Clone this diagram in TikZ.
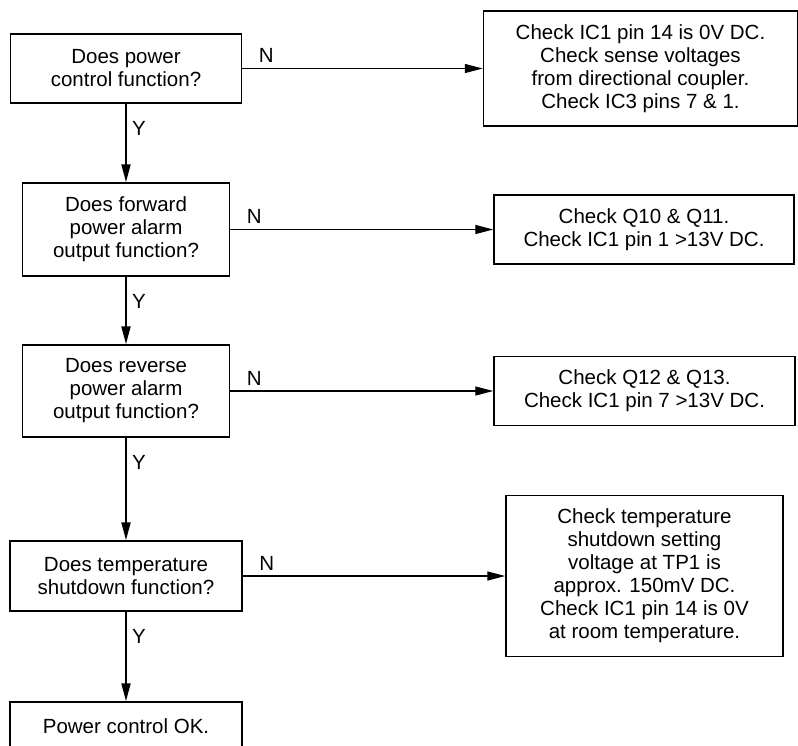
\documentclass[tikz,border=0pt]{standalone}
\usepackage{fontspec}
\setmainfont{Liberation Sans}
\usetikzlibrary{arrows.meta}

\begin{document}
\begin{tikzpicture}[x=1pt, y=-1pt,
    font=\fontsize{20.5}{23}\selectfont,
    qbox/.style={draw, line width=1.5pt, align=center, inner sep=0pt},
    fixbox/.style={draw, line width=1.5pt, align=center, inner sep=0pt},
    yline/.style={line width=2pt, -{Triangle[length=18pt,width=9pt]}},
    nline/.style={line width=1.3pt, -{Triangle[length=18pt,width=9pt]}},
    ylbl/.style={anchor=north west, inner sep=0pt, xshift=5pt, yshift=-17pt},
    nlbl/.style={anchor=south west, inner sep=0pt, xshift=16pt, yshift=5pt}]
\useasboundingbox (0,0) rectangle (798,745);

% Question boxes
\node[qbox, minimum width=231pt, minimum height=69pt] (q1) at (126,68.5) {Does power\\control function?};
\node[qbox, minimum width=207pt, minimum height=93pt] (q2) at (126,229.5) {Does forward\\power alarm\\output function?};
\node[qbox, minimum width=207pt, minimum height=92pt] (q3) at (126,391) {Does reverse\\power alarm\\output function?};
\node[qbox, minimum width=232pt, minimum height=70pt] (q4) at (126,576) {Does temperature\\shutdown function?};
\node[qbox, minimum width=232pt, minimum height=48pt] (ok) at (126,726) {Power control OK.};

% Fault boxes
\node[fixbox, minimum width=314pt, minimum height=115pt] (r1) at (640.5,68.5) {Check IC1 pin 14 is 0V DC.\\Check sense voltages\\from directional coupler.\\Check IC3 pins 7 \& 1.};
\node[fixbox, minimum width=300pt, minimum height=69pt] (r2) at (644,229.5) {Check Q10 \& Q11.\\Check IC1 pin 1 >13V DC.};
\node[fixbox, minimum width=301pt, minimum height=69pt] (r3) at (644.5,391) {Check Q12 \& Q13.\\Check IC1 pin 7 >13V DC.};
\node[fixbox, minimum width=277pt, minimum height=161pt] (r4) at (644.5,576) {Check temperature\\shutdown setting\\voltage at TP1 is\\approx. 150mV DC.\\Check IC1 pin 14 is 0V\\at room temperature.};

% Yes path
\foreach \a/\b in {q1/q2, q2/q3, q3/q4, q4/ok}
    \draw[yline] (\a) -- node[pos=0, ylbl] {Y} (\b);

% No path
\foreach \a/\b in {q1/r1, q2/r2, q3/r3, q4/r4}
    \draw[nline] (\a) -- node[pos=0, nlbl] {N} (\b);

\end{tikzpicture}
\end{document}
